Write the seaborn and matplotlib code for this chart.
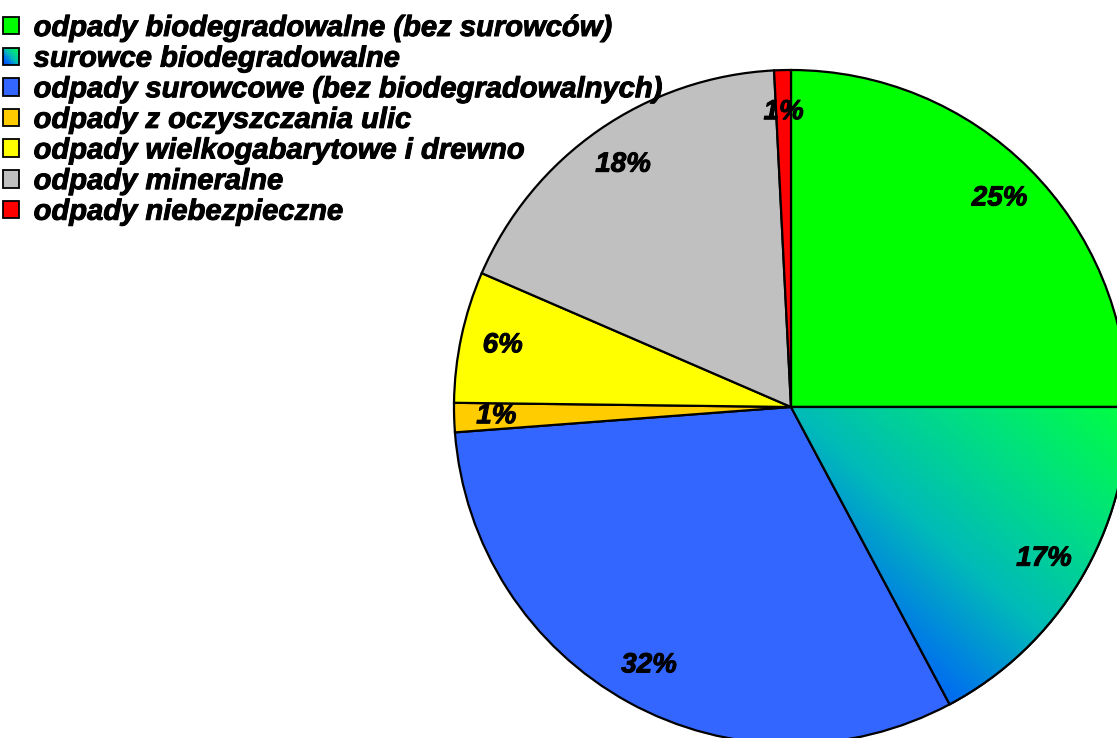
import numpy as np
import matplotlib
matplotlib.use('Agg')
import matplotlib.pyplot as plt
import matplotlib.patheffects as pe
from matplotlib.patches import Rectangle, Wedge
from matplotlib.legend_handler import HandlerBase
import seaborn as sns

# --- data ---
categories = [
    'odpady biodegradowalne (bez surowców)',
    'surowce biodegradowalne',
    'odpady surowcowe (bez biodegradowalnych)',
    'odpady z oczyszczania ulic',
    'odpady wielkogabarytowe i drewno',
    'odpady mineralne',
    'odpady niebezpieczne',
]
shares = [25.0, 17.2, 31.6, 1.4, 6.3, 17.7, 0.8]
slice_colors = ['#00FF00', '#00C0B0', '#3366FF', '#FFCC00', '#FFFF00', '#C0C0C0', '#FF0000']
gradient_stops = ['#00FF40', '#00E080', '#00BBB8', '#006EF0', '#0044FF']
GRADIENT_SLICE = 1

sns.set_style('white')
plt.rcParams['font.family'] = ['Liberation Sans', 'DejaVu Sans']
plt.rcParams['text.color'] = 'black'

grad_cmap = sns.blend_palette(gradient_stops, as_cmap=True)
legend_font = dict(family=['Liberation Sans', 'DejaVu Sans'], weight='bold', style='italic', size=21)
heavier = [pe.withStroke(linewidth=0.7, foreground='black')]

W, H = 1117, 738
CX, CY, R = 791, 407, 337

fig = plt.figure(figsize=(W / 100, H / 100), dpi=100)
ax = fig.add_axes([0, 0, 1, 1])

wedges, texts, autotexts = ax.pie(
    shares, colors=slice_colors, startangle=90, counterclock=False,
    autopct='%.0f%%', pctdistance=0.875,
    wedgeprops=dict(edgecolor='black', linewidth=1.6),
    textprops=dict(color='black', fontsize=20, fontweight='bold', fontstyle='italic'),
)
ax.axis('off')

# diagonal gradient fill inside the second slice (top-right green -> bottom-left blue)
w = wedges[GRADIENT_SLICE]
ang = np.radians(np.linspace(w.theta1, w.theta2, 200))
xs = np.concatenate([[0], np.cos(ang)])
ys = np.concatenate([[0], np.sin(ang)])
x0, x1, y0, y1 = xs.min(), xs.max(), ys.min(), ys.max()
u, v = np.meshgrid(np.linspace(0, 1, 300), np.linspace(0, 1, 300))
t = ((1 - u) + v) / 2  # v measured from the top
img = ax.imshow(t, cmap=grad_cmap, vmin=0, vmax=1, extent=(x0, x1, y0, y1),
                origin='upper', zorder=w.get_zorder() + 0.1, interpolation='bilinear')
img.set_clip_path(w)
ax.add_patch(Wedge((0, 0), 1, w.theta1, w.theta2, facecolor='none', edgecolor='black',
                   linewidth=1.6, zorder=w.get_zorder() + 0.2))
for txt in autotexts:
    txt.set_zorder(5)
    txt.set_path_effects(heavier)

ax.set_xlim(-CX / R, (W - CX) / R)
ax.set_ylim(-(H - CY) / R, CY / R)
ax.set_aspect('equal')


class GradientSquare(HandlerBase):
    def create_artists(self, legend, orig_handle, xdescent, ydescent, width, height,
                       fontsize, trans):
        n = 8
        arts = []
        for i in range(n):
            for j in range(n):
                tt = ((1 - (i + 0.5) / n) + (j + 0.5) / n) / 2
                arts.append(Rectangle((-xdescent + i * width / n,
                                       -ydescent + height - (j + 1) * height / n),
                                      width / n, height / n, facecolor=grad_cmap(tt),
                                      edgecolor='none', transform=trans))
        arts.append(Rectangle((-xdescent, -ydescent), width, height, facecolor='none',
                              edgecolor='black', linewidth=1.3, transform=trans))
        return arts


handles = [Rectangle((0, 0), 1, 1, facecolor=c, edgecolor='black', linewidth=1.3)
           for c in slice_colors]
handler_map = {handles[GRADIENT_SLICE]: GradientSquare()}
leg = fig.legend(handles, categories, loc='upper left', bbox_to_anchor=(3 / W, 1 - 14 / H),
                 prop=legend_font, frameon=False, handlelength=0.55, handleheight=0.55,
                 handletextpad=0.5, labelspacing=0.09, borderpad=0, borderaxespad=0,
                 handler_map=handler_map)
for txt in leg.get_texts():
    txt.set_color('black')
    txt.set_path_effects(heavier)

fig.savefig('out.png', dpi=100)
